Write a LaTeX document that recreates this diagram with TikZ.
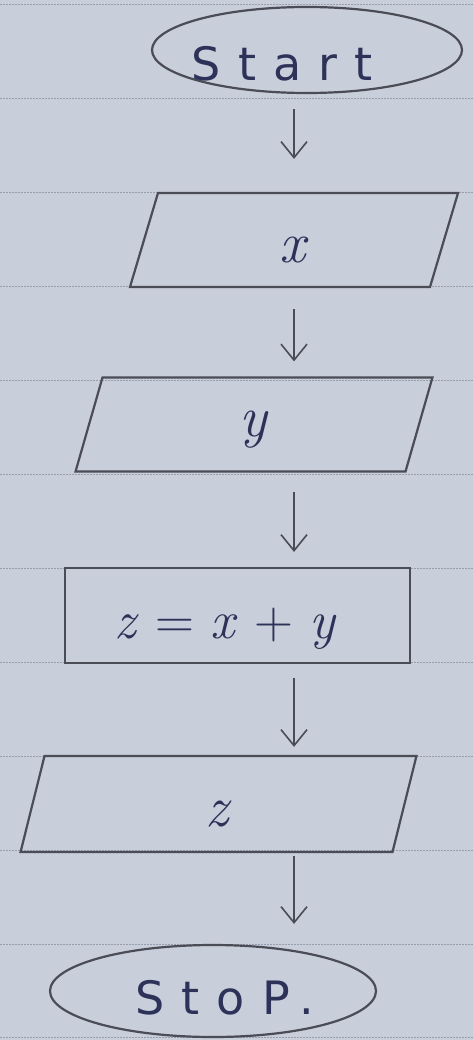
\documentclass[tikz,border=0pt]{standalone}
\usepackage{fontspec}
\newfontfamily\handfont[LetterSpace=37]{DejaVu Sans}
\usepackage{tikz}
\usetikzlibrary{shapes.geometric,arrows.meta}

\definecolor{paper}{RGB}{201,206,219}
\definecolor{ruling}{RGB}{152,157,172}
\definecolor{pencil}{RGB}{74,76,86}
\definecolor{ink}{RGB}{44,50,88}

\newcommand{\var}[1]{\textit{#1}}

\tikzset{
  outline/.style={draw=pencil, line width=2.2pt},
  term/.style={outline, ellipse, inner sep=0pt, text=ink,
    font=\handfont\fontsize{46}{52}\selectfont},
  iobox/.style={outline, trapezium, inner sep=0pt, align=center,
    text=ink, font=\fontsize{58}{64}\selectfont},
  procbox/.style={outline, rectangle, inner sep=0pt, text=ink,
    font=\fontsize{54}{60}\selectfont},
  flow/.style={draw=pencil, line width=1.6pt,
    -{Straight Barb[length=16pt,width=26pt,line width=1.6pt]}}
}

\begin{document}
\begin{tikzpicture}[x=1pt,y=-1pt]
  % Paper
  \fill[paper] (0,0) rectangle (473,1040);
  \useasboundingbox (0,0) rectangle (473,1040);
  % Ruled lines
  \foreach \k in {0,...,11}
    \draw[ruling, line width=1pt, dash pattern=on 1.5pt off 1.5pt] (0,5+93.9*\k) -- (473,5+93.9*\k);
  % Terminals
  \node[term, minimum width=310pt, minimum height=86pt] (start) at (307,50)
    {\makebox[0pt]{\raisebox{-14pt}[34pt][0pt]{Start}\hspace*{50pt}}};
  \node[term, minimum width=326pt, minimum height=92pt] (stop) at (213,991)
    {\makebox[0pt]{\hspace*{24pt}\raisebox{-6pt}[34pt][0pt]{StoP.}}};
  % Input boxes
  \node[iobox, trapezium left angle=73.4, trapezium right angle=106.6,
    text width=272pt, text height=70pt, text depth=24pt] (inx) at (294,240) {\var{x}};
  \node[iobox, trapezium left angle=74, trapezium right angle=106,
    text width=303pt, text height=59pt, text depth=35pt] (iny) at (254,424.5) {\var{y}};
  % Process
  \node[procbox, minimum width=345pt, text height=70pt, text depth=25pt] (calc) at (237.5,615.5)
    {\var{z} = \var{x} + \var{y}\hspace*{24pt}};
  % Output
  \node[iobox, trapezium left angle=76, trapezium right angle=104,
    text width=348pt, text height=70pt, text depth=26pt] (outz) at (218.5,804) {\var{z}};
  % Flow arrows
  \draw[flow, xshift=3pt, shorten <=15pt, shorten >=33pt] (start.south -| inx.north) -- (inx.north);
  \draw[flow, xshift=-1pt, shorten <=21pt, shorten >=15pt] (inx.south) -- (inx.south |- iny.north);
  \draw[flow, xshift=-4pt, shorten <=19pt, shorten >=15pt] (inx.south |- iny.south) -- (inx.south |- calc.north);
  \draw[flow, xshift=-7pt, shorten <=14pt, shorten >=8pt] (inx.south |- calc.south) -- (inx.south |- outz.north);
  \draw[flow, xshift=-9pt, shorten <=3pt, shorten >=20pt] (inx.south |- outz.south) -- (inx.south |- stop.north);
\end{tikzpicture}
\end{document}
